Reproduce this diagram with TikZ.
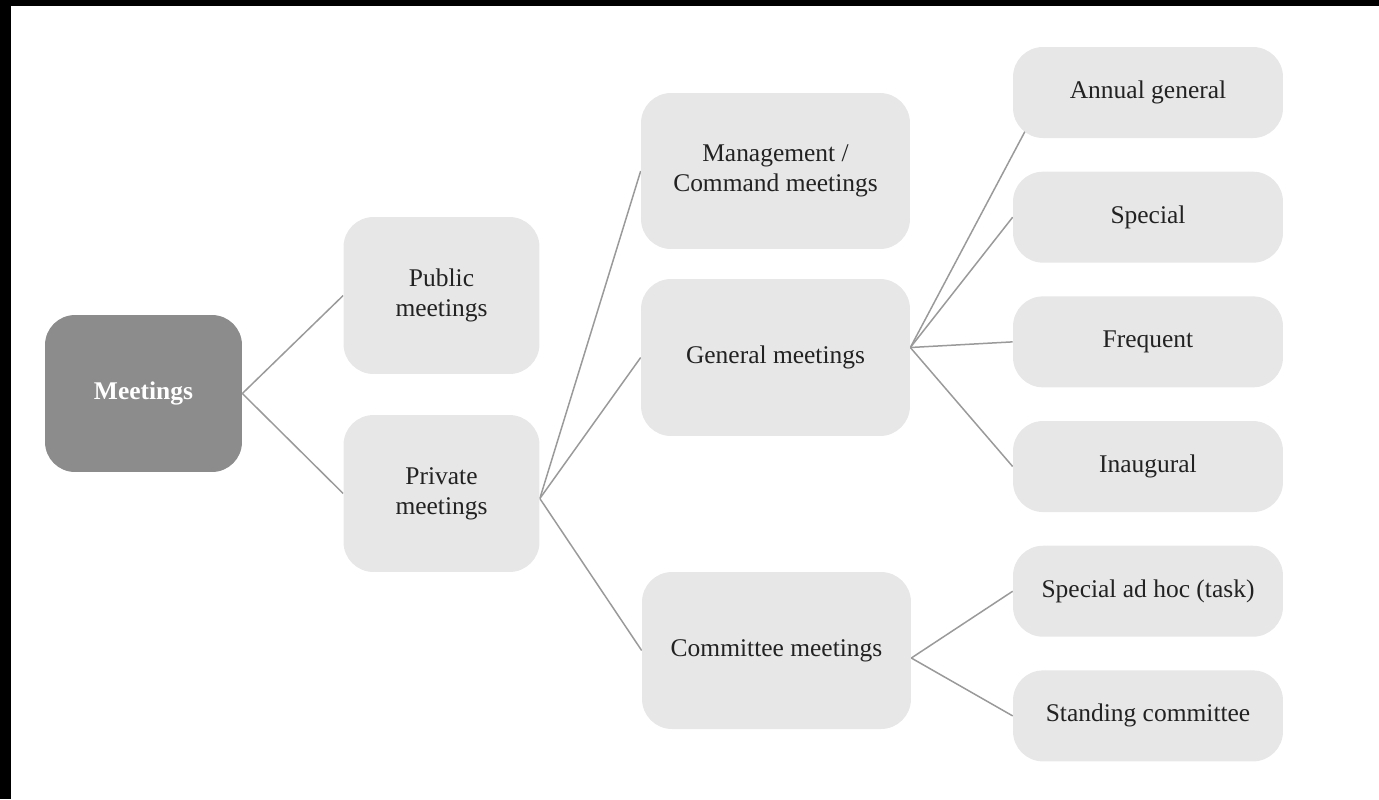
\documentclass[tikz,border=0pt]{standalone}
\usepackage{fontspec}
\setmainfont{Liberation Serif}
\usetikzlibrary{backgrounds,positioning}
\definecolor{boxgray}{HTML}{E7E7E7}
\definecolor{rootgray}{HTML}{8C8C8C}
\definecolor{linegray}{HTML}{9A9A9A}
\definecolor{textgray}{HTML}{222222}

\begin{document}
\begin{tikzpicture}[x=0.02cm,y=-0.02cm,node distance=0.66cm]
      \useasboundingbox (0,0) rectangle (1379,799);
      \fill[black] (0,0) rectangle (1379,6);
      \fill[black] (0,0) rectangle (11,799);
      \begin{scope}[every node/.style={rounded corners=0.6cm,align=center,inner sep=0pt,
          fill=boxgray,text=textgray,font=\fontsize{14.5}{17}\selectfont}]
        \node (meet) [fill=rootgray,text=white,font=\bfseries\fontsize{14.5}{17}\selectfont,
          minimum width=3.94cm,minimum height=3.14cm] at (143.5,393.5) {Meetings};
        \node (pub) [minimum width=3.92cm,minimum height=3.14cm] at (441.5,295.5) {Public\\meetings};
        \node (priv) [minimum width=3.92cm,minimum height=3.14cm] at (441.5,493.5) {Private\\meetings};
        \node (mgmt) [minimum width=5.38cm,minimum height=3.12cm] at (775.5,171) {Management /\\Command meetings};
        \node (gen) [minimum width=5.38cm,minimum height=3.14cm] at (775.5,357.5) {General meetings};
        \node (comm) [minimum width=5.38cm,minimum height=3.14cm] at (776.5,650.5) {Committee meetings};
      \end{scope}
      \begin{scope}[every node/.style={rounded corners=0.6cm,align=center,inner sep=0pt,
          fill=boxgray,text=textgray,font=\fontsize{14.5}{17}\selectfont,
          minimum width=5.4cm,minimum height=1.82cm}]
        \node (annual) at (1148,92.5) {Annual general};
        \node (special) [below=of annual] {Special};
        \node (frequent) [below=of special] {Frequent};
        \node (inaug) [below=of frequent] {Inaugural};
        \node (adhoc) [below=of inaug] {Special ad hoc (task)};
        \node (standing) [below=of adhoc] {Standing committee};
      \end{scope}
      \begin{scope}[on background layer,
        every edge/.style={draw=linegray,line width=0.03cm}]
        \path (meet.east) edge (pub.west);
        \path (meet.east) edge (priv.west);
        \path ([yshift=-0.1cm]priv.east) edge (mgmt.west);
        \path ([yshift=-0.1cm]priv.east) edge (gen.west);
        \path ([yshift=-0.1cm]priv.east) edge (comm.west);
        \path ([yshift=0.2cm]gen.east) edge ([shift={(0.3cm,0.24cm)}]annual.south west);
        \path ([yshift=0.2cm]gen.east) edge (special.west);
        \path ([yshift=0.2cm]gen.east) edge (frequent.west);
        \path ([yshift=0.2cm]gen.east) edge (inaug.west);
        \path ([yshift=-0.15cm]comm.east) edge (adhoc.west);
        \path ([yshift=-0.15cm]comm.east) edge (standing.west);
      \end{scope}
    \end{tikzpicture}
\end{document}
